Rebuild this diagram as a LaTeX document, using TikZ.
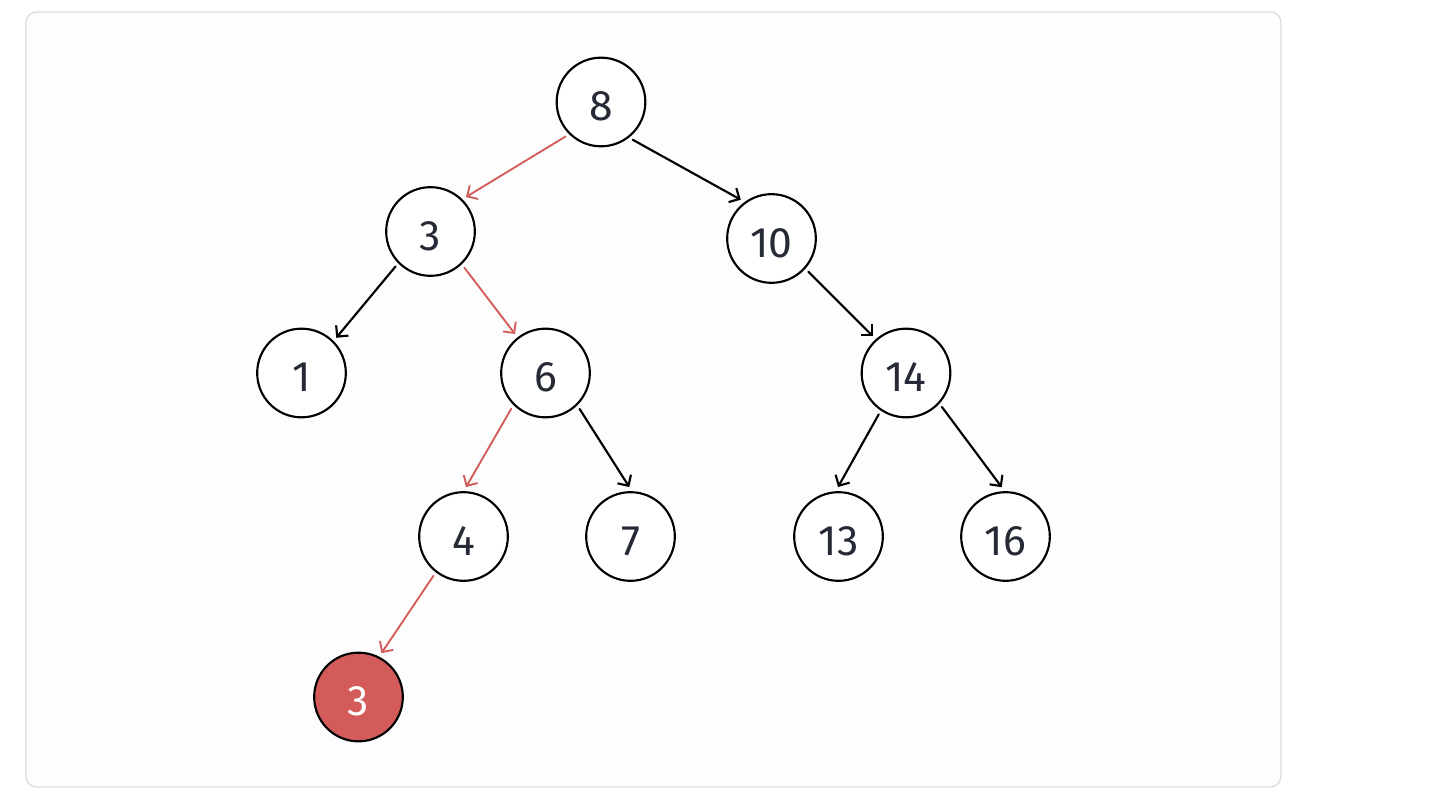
\documentclass[tikz,border=0pt]{standalone}
\usepackage{fontspec}
\setmainfont{Fira Sans}
\usetikzlibrary{arrows.meta}
\definecolor{framegray}{HTML}{DCDCDE}
\definecolor{framefill}{HTML}{FDFDFD}
\definecolor{txt}{HTML}{262A36}
\definecolor{hired}{HTML}{D35B5A}
\tikzset{
  treenode/.style={circle, draw=black, line width=1.6pt, fill=white,
    minimum size=66.5pt, inner sep=0pt, text=txt,
    font=\fontsize{32}{32}\selectfont, text height=28pt, text depth=0pt},
  foundnode/.style={treenode, fill=hired, text=white},
  edge/.style={line width=1.6pt, draw=black, line cap=round,
    -{Straight Barb[length=6pt,width=12pt,line width=1.6pt]}},
  pathedge/.style={edge, draw=hired, line width=1.4pt,
    -{Straight Barb[length=6pt,width=12pt,line width=1.4pt]}}
}
\newcommand{\rim}[2]{([shift={(#2:37.1pt)}]#1.center)}
\begin{document}
\begin{tikzpicture}[x=0.75pt,y=-0.75pt]
\useasboundingbox (0,0) rectangle (1434,805);
\draw[framegray, fill=framefill, line width=1pt, rounded corners=8pt] (26,12) rectangle (1281,787);
\node[treenode] (n8) at (601,102) {8};
\node[treenode] (n3) at (430.5,231.5) {3};
\node[treenode] (n10) at (771.5,238.5) {10};
\node[treenode] (n1) at (301.5,373) {1};
\node[treenode] (n6) at (545.5,373) {6};
\node[treenode] (n14) at (906,373) {14};
\node[treenode] (n4) at (463.5,536.5) {4};
\node[treenode] (n7) at (630.5,536.5) {7};
\node[treenode] (n13) at (838.5,536.5) {13};
\node[treenode] (n16) at (1005.5,536.5) {16};
\node[foundnode] (n3b) at (358.5,697) {3};
\draw[pathedge] \rim{n8}{224.2} -- \rim{n3}{44.2};
\draw[edge] \rim{n8}{310.1} -- \rim{n10}{128.4};
\draw[edge] \rim{n3}{225} -- \rim{n1}{45.4};
\draw[pathedge] \rim{n3}{313.1} -- \rim{n6}{128};
\draw[edge] \rim{n10}{318} -- \rim{n14}{132};
\draw[pathedge] \rim{n6}{226.2} -- \rim{n4}{87.1};
\draw[edge] \rim{n6}{313.5} -- \rim{n7}{91.4};
\draw[edge] \rim{n14}{236.6} -- \rim{n13}{90.6};
\draw[edge] \rim{n14}{316.6} -- \rim{n16}{94.4};
\draw[pathedge] \rim{n4}{232.6} -- \rim{n3b}{62.4};
\end{tikzpicture}
\end{document}
